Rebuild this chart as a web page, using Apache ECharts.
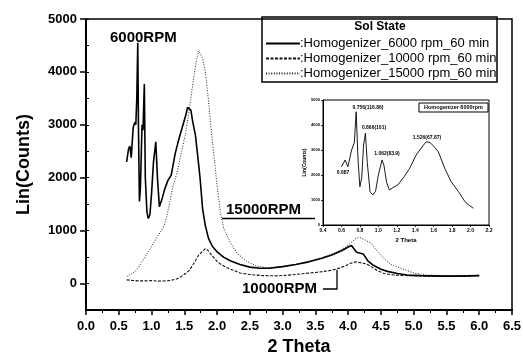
<!DOCTYPE html>
<html>
<head>
<meta charset="utf-8">
<script src="https://cdn.jsdelivr.net/npm/echarts@6/dist/echarts.min.js"></script>
<style>html,body{margin:0;padding:0;background:#fff}#c{width:523px;height:354px}</style>
</head>
<body>
<div id="c"></div>
<script>
// ---- data ----
const seriesNames = ['Homogenizer_6000 rpm_60 min', 'Homogenizer_10000 rpm_60 min', 'Homogenizer_15000 rpm_60 min'];
const xTicks = [0, 0.5, 1, 1.5, 2, 2.5, 3, 3.5, 4, 4.5, 5, 5.5, 6, 6.5];
const yTicks = [0, 1000, 2000, 3000, 4000, 5000];

const theta6000 = [0.62,0.65,0.67,0.69,0.72,0.745,0.76,0.775,0.79,0.80,0.815,0.83,0.855,0.87,0.89,0.905,0.93,0.95,0.975,1.00,1.03,1.065,1.09,1.12,1.16,1.20,1.25,1.30,1.36,1.40,1.44,1.48,1.52,1.55,1.58,1.60,1.63,1.67,1.71,1.74,1.78,1.82,1.87,1.93,2.00,2.10,2.20,2.35,2.50,2.65,2.80,3.00,3.20,3.40,3.60,3.75,3.90,4.00,4.05,4.13,4.23,4.30,4.39,4.50,4.60,4.75,4.90,5.10,5.40,5.70,6.00];
const counts6000 = [2300,2550,2600,2380,2950,3050,3000,3500,4550,3000,1550,1800,3000,2900,3770,2000,1350,1230,1300,1700,2300,2680,2000,1450,1600,1780,1950,2050,2450,2650,2830,3000,3170,3330,3300,3280,3050,2800,2350,2000,1400,1100,850,700,600,500,430,360,310,290,290,320,360,410,480,540,620,690,720,590,560,430,340,270,230,190,160,150,140,140,150];

const theta10000 = [0.62,0.70,0.80,0.90,1.00,1.10,1.20,1.30,1.39,1.45,1.52,1.57,1.62,1.67,1.72,1.77,1.82,1.86,1.90,1.95,2.00,2.05,2.15,2.25,2.35,2.50,2.70,2.90,3.10,3.30,3.50,3.70,3.84,3.95,4.05,4.12,4.20,4.28,4.35,4.45,4.55,4.70,4.90,5.20,5.50,5.80,6.00];
const counts10000 = [70,60,50,50,55,45,50,60,90,130,190,240,330,430,540,600,660,630,560,490,420,370,300,250,200,170,150,145,160,185,210,240,280,330,390,410,390,370,320,240,190,160,150,140,140,140,150];

const theta15000 = [0.62,0.70,0.77,0.85,0.93,1.00,1.08,1.18,1.23,1.28,1.33,1.39,1.46,1.52,1.565,1.60,1.65,1.69,1.72,1.75,1.78,1.82,1.87,1.91,1.95,2.00,2.05,2.10,2.20,2.30,2.45,2.60,2.75,3.00,3.20,3.40,3.60,3.80,3.95,4.05,4.12,4.18,4.25,4.35,4.45,4.55,4.65,4.80,5.00,5.20,5.50,5.80,6.00];
const counts15000 = [130,190,250,400,560,700,870,1060,1250,1550,1850,2100,2500,2850,3200,3500,3950,4250,4400,4330,4250,4020,3450,2900,2450,1850,1350,1050,780,580,420,330,300,320,360,420,490,580,680,780,860,870,830,760,600,470,360,290,200,160,150,150,160];

const insetTheta = [0.60,0.64,0.67,0.71,0.73,0.74,0.76,0.78,0.80,0.82,0.84,0.86,0.88,0.91,0.94,0.97,1.00,1.04,1.06,1.09,1.12,1.16,1.21,1.28,1.34,1.41,1.49,1.52,1.56,1.60,1.65,1.72,1.79,1.87,1.94,1.98,2.03];
const insetCounts = [2330,2600,2330,3000,2950,3300,4530,2600,1530,1900,3200,3670,2500,1330,1200,1350,2000,2600,2400,1700,1400,1500,1600,1930,2270,2800,3200,3330,3300,3150,2930,2270,1730,1330,930,800,670];
const insetXTicks = [0.4,0.6,0.8,1.0,1.2,1.4,1.6,1.8,2.0,2.2];
const insetYTicks = [0,1000,2000,3000,4000,5000];

function pairs(xs, ys) { return xs.map((x, i) => [x, ys[i]]); }

const chart = echarts.init(document.getElementById('c'), null, {renderer: 'canvas'});
const F = 'Liberation Sans, Arial, sans-serif';

const option = {
  animation: false,
  backgroundColor: '#fff',
  textStyle: {fontFamily: F, color: '#000'},
  grid: [
    {left: 86, top: 19, right: 11, bottom: 44, outerBoundsMode: 'none', containLabel: false, show: true, borderColor: '#000', borderWidth: 1.5, backgroundColor: 'transparent'},
    {left: 323, top: 100, width: 166, height: 125, outerBoundsMode: 'none', containLabel: false, show: true, borderColor: '#000', borderWidth: 1, backgroundColor: '#fff', z: 5}
  ],
  xAxis: [
    {gridIndex: 0, type: 'value', min: 0, max: 6.5, interval: 0.5,
     name: '2 Theta', nameLocation: 'middle', nameGap: 13,
     nameTextStyle: {fontFamily: F, fontWeight: 'bold', fontSize: 18, color: '#000', verticalAlign: 'top'},
     axisLine: {onZero: false, lineStyle: {color: '#000', width: 2}},
     axisTick: {length: 5, lineStyle: {color: '#000', width: 1.5}},
     minorTick: {show: true, splitNumber: 2, length: 3, lineStyle: {color: '#000', width: 1}},
     axisLabel: {fontFamily: F, fontWeight: 'bold', fontSize: 13, color: '#000', margin: 10,
                 formatter: v => v.toFixed(1)},
     splitLine: {show: false}},
    {gridIndex: 1, type: 'value', min: 0.4, max: 2.2, interval: 0.2,
     name: '2 Theta', nameLocation: 'middle', nameGap: 12,
     nameTextStyle: {fontFamily: F, fontWeight: 'bold', fontSize: 6, color: '#000'},
     axisLine: {onZero: false, lineStyle: {color: '#000', width: 1}},
     axisTick: {length: 2, lineStyle: {color: '#000', width: 0.8}},
     axisLabel: {fontFamily: F, fontWeight: 'bold', fontSize: 5, color: '#000', margin: 3,
                 formatter: v => v.toFixed(1)},
     splitLine: {show: false}, z: 6}
  ],
  yAxis: [
    {gridIndex: 0, type: 'value', min: -500, max: 5000,
     name: 'Lin(Counts)', nameLocation: 'middle', nameGap: 53,
     nameTextStyle: {fontFamily: F, fontWeight: 'bold', fontSize: 18, color: '#000'},
     axisLine: {onZero: false, lineStyle: {color: '#000', width: 2}},
     axisTick: {length: 6, customValues: yTicks, lineStyle: {color: '#000', width: 1.5}},
     axisLabel: {fontFamily: F, fontWeight: 'bold', fontSize: 13, color: '#000', margin: 9, customValues: yTicks,
                 formatter: v => String(v)},
     splitLine: {show: false}},
    {gridIndex: 0, type: 'value', min: -500, max: 5000, interval: 500,
     axisLine: {show: false}, axisLabel: {show: false},
     axisTick: {length: 3, lineStyle: {color: '#000', width: 1}}, splitLine: {show: false}},
    {gridIndex: 1, type: 'value', min: 0, max: 5000, interval: 1000,
     name: 'Lin(Counts)', nameLocation: 'middle', nameGap: 14,
     nameTextStyle: {fontFamily: F, fontWeight: 'bold', fontSize: 5, color: '#000'},
     axisLine: {onZero: false, lineStyle: {color: '#000', width: 1}},
     axisTick: {length: 2, lineStyle: {color: '#000', width: 0.8}},
     axisLabel: {fontFamily: F, fontWeight: 'bold', fontSize: 4, color: '#000', margin: 3, formatter: v => String(v)},
     splitLine: {show: false}, z: 6}
  ],
  legend: {
    left: 262, top: 37, orient: 'vertical', itemWidth: 34, itemHeight: 8, itemGap: 2,
    padding: [0, 0, 0, 3],
    data: seriesNames,
    formatter: n => ':' + n,
    itemStyle: {opacity: 0},
    textStyle: {fontFamily: F, fontSize: 13, color: '#000', padding: [0, 0, 0, -5]},
    selectedMode: false
  },
  series: [
    {name: seriesNames[0], type: 'line', xAxisIndex: 0, yAxisIndex: 0, symbol: 'none', data: pairs(theta6000, counts6000),
     lineStyle: {color: '#000', width: 1.6}, itemStyle: {color: '#000'}, z: 3},
    {name: seriesNames[1], type: 'line', xAxisIndex: 0, yAxisIndex: 0, symbol: 'none', data: pairs(theta10000, counts10000),
     lineStyle: {color: '#111', width: 1.1, type: [3, 1.5]}, itemStyle: {color: '#111'}, z: 2},
    {name: seriesNames[2], type: 'line', xAxisIndex: 0, yAxisIndex: 0, symbol: 'none', data: pairs(theta15000, counts15000),
     lineStyle: {color: '#222', width: 1, type: [1, 1.6]}, itemStyle: {color: '#222'}, z: 2},
    {name: 'inset', type: 'line', xAxisIndex: 1, yAxisIndex: 2, symbol: 'none', data: pairs(insetTheta, insetCounts),
     lineStyle: {color: '#000', width: 0.9}, z: 7}
  ],
  graphic: [
    {type: 'rect', shape: {x: 262, y: 17, width: 235, height: 65}, style: {fill: 'none', stroke: '#000', lineWidth: 1.5}, z: 10},
    {type: 'text', x: 380, y: 27, style: {text: 'Sol State', font: 'bold 12px Liberation Sans, Arial', fill: '#000', textAlign: 'center', textVerticalAlign: 'middle'}, z: 10},
    {type: 'text', x: 110, y: 38, style: {text: '6000RPM', font: 'bold 15px Liberation Sans, Arial', fill: '#000', textAlign: 'left', textVerticalAlign: 'middle'}, z: 10},
    {type: 'text', x: 226, y: 210, style: {text: '15000RPM', font: 'bold 15px Liberation Sans, Arial', fill: '#000', textAlign: 'left', textVerticalAlign: 'middle'}, z: 10},
    {type: 'line', shape: {x1: 222, y1: 218.5, x2: 315, y2: 218.5}, style: {stroke: '#000', lineWidth: 1.5}, z: 10},
    {type: 'text', x: 242, y: 289, style: {text: '10000RPM', font: 'bold 15px Liberation Sans, Arial', fill: '#000', textAlign: 'left', textVerticalAlign: 'middle'}, z: 10},
    {type: 'polyline', shape: {points: [[323, 289], [337, 289], [337, 270]]}, style: {stroke: '#000', lineWidth: 1.3, fill: 'none'}, z: 10},
    {type: 'rect', shape: {x: 419, y: 103, width: 69, height: 9}, style: {fill: '#fff', stroke: '#000', lineWidth: 1}, z: 20},
    {type: 'text', x: 453.5, y: 107.5, style: {text: 'Homogenizer 6000rpm', font: 'bold 5.5px Liberation Sans, Arial', fill: '#000', textAlign: 'center', textVerticalAlign: 'middle'}, z: 21},
    {type: 'text', x: 368, y: 108, style: {text: '0.756(116.86)', font: 'bold 5px Liberation Sans, Arial', fill: '#000', textAlign: 'center', textVerticalAlign: 'middle'}, z: 21},
    {type: 'text', x: 374, y: 128, style: {text: '0.866(101)', font: 'bold 5px Liberation Sans, Arial', fill: '#000', textAlign: 'center', textVerticalAlign: 'middle'}, z: 21},
    {type: 'text', x: 387, y: 154, style: {text: '1.062(83.9)', font: 'bold 5px Liberation Sans, Arial', fill: '#000', textAlign: 'center', textVerticalAlign: 'middle'}, z: 21},
    {type: 'text', x: 427, y: 138, style: {text: '1.526(67.87)', font: 'bold 5px Liberation Sans, Arial', fill: '#000', textAlign: 'center', textVerticalAlign: 'middle'}, z: 21},
    {type: 'text', x: 343, y: 173, style: {text: '0.687', font: 'bold 5px Liberation Sans, Arial', fill: '#000', textAlign: 'center', textVerticalAlign: 'middle'}, z: 21}
  ]
};
chart.setOption(option);
</script>
</body>
</html>
